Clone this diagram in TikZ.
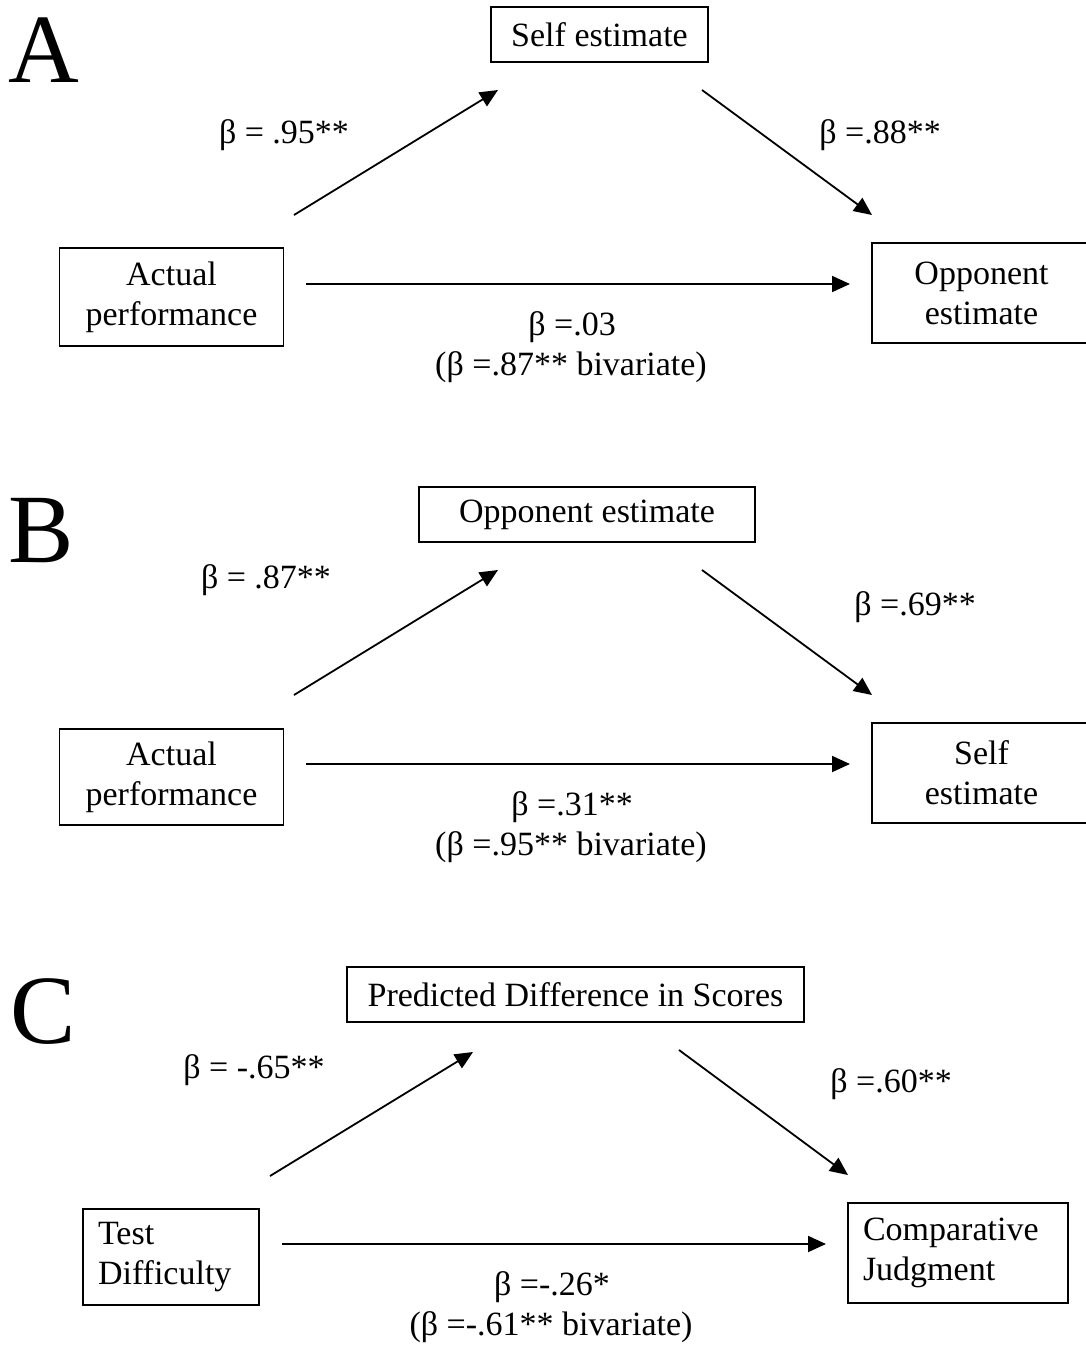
\documentclass[tikz,border=0pt]{standalone}
\usepackage{fontspec}
\setmainfont{Liberation Serif}
\usetikzlibrary{arrows.meta}
\begin{document}
\begin{tikzpicture}[x=1pt,y=-1pt,
  txt/.style={font=\fontsize{34}{40}\selectfont, inner sep=0pt},
  lbl/.style={txt, anchor=base},
  box/.style={draw, line width=1.8pt, txt, align=center},
  lbox/.style={draw, line width=1.8pt, txt, align=left, inner xsep=15pt},
  big/.style={font=\fontsize{98}{100}\selectfont, anchor=base west, inner sep=0pt},
  arr/.style={line width=1.8pt, -{Triangle[length=18pt,width=16pt]}}]
\useasboundingbox (0,0) rectangle (1085,1347);

% ---------- Panel A ----------
\node[big] (LA) at (8,82) {A};
\node[box, minimum width=217pt, minimum height=55pt] (A1) at (599.5,34.5) {Self estimate};
\node[box, minimum width=224pt, minimum height=98pt] (A2) at (171.5,297) {Actual\\performance};
\node[box, minimum width=219pt, minimum height=100pt] (A3) at (981.5,293) {Opponent\\estimate};
\coordinate (a1s) at (294,215); \coordinate (a1e) at (498,90);
\coordinate (a2s) at (702,90);  \coordinate (a2e) at (872,215);
\coordinate (a3s) at (306,284); \coordinate (a3e) at (850,284);
\draw[arr] (a1s) -- (a1e);
\draw[arr] (a2s) -- (a2e);
\draw[arr] (a3s) -- (a3e);
\node[lbl] (la1) at (284,143) {β = .95**};
\node[lbl] (la2) at (880,143) {β =.88**};
\node[lbl] (la3) at (572,335) {β =.03};
\node[lbl] (la4) at (571,375) {(β =.87** bivariate)};

% ---------- Panel B ----------
\node[big] (LB) at (8,562) {B};
\node[box, minimum width=336pt, minimum height=55pt] (B1) at (587,514.5) {Opponent estimate};
\node[box, minimum width=224pt, minimum height=96pt] (B2) at (171.5,777) {Actual\\performance};
\node[box, minimum width=219pt, minimum height=100pt] (B3) at (981.5,773) {Self\\estimate};
\coordinate (b1s) at (294,695); \coordinate (b1e) at (498,570);
\coordinate (b2s) at (702,570); \coordinate (b2e) at (872,695);
\coordinate (b3s) at (306,764); \coordinate (b3e) at (850,764);
\draw[arr] (b1s) -- (b1e);
\draw[arr] (b2s) -- (b2e);
\draw[arr] (b3s) -- (b3e);
\node[lbl] (lb1) at (266,588) {β = .87**};
\node[lbl] (lb2) at (915,615) {β =.69**};
\node[lbl] (lb3) at (572,815) {β =.31**};
\node[lbl] (lb4) at (571,855) {(β =.95** bivariate)};

% ---------- Panel C ----------
\node[big] (LC) at (10,1043) {C};
\node[box, minimum width=457pt, minimum height=55pt] (C1) at (575.5,994.5) {Predicted Difference in Scores};
\node[lbox, text width=146pt, minimum height=96pt] (C2) at (171,1257) {Test\\Difficulty};
\node[lbox, text width=190pt, minimum height=100pt] (C3) at (958,1253) {Comparative\\Judgment};
\coordinate (c1s) at (270,1176); \coordinate (c1e) at (473,1052);
\coordinate (c2s) at (679,1050); \coordinate (c2e) at (848,1175);
\coordinate (c3s) at (282,1244); \coordinate (c3e) at (826,1244);
\draw[arr] (c1s) -- (c1e);
\draw[arr] (c2s) -- (c2e);
\draw[arr] (c3s) -- (c3e);
\node[lbl] (lc1) at (254,1078) {β = -.65**};
\node[lbl] (lc2) at (891,1092) {β =.60**};
\node[lbl] (lc3) at (552,1295) {β =-.26*};
\node[lbl] (lc4) at (551,1335) {(β =-.61** bivariate)};
\end{tikzpicture}
\end{document}
